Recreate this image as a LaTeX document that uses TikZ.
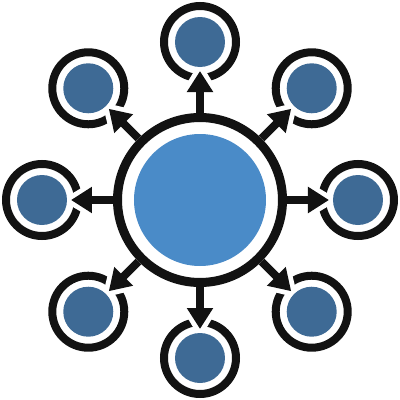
\documentclass[tikz,border=0pt]{standalone}
\usetikzlibrary{arrows.meta}
\definecolor{ringblack}{HTML}{121212}
\definecolor{hubblue}{HTML}{4A8BC8}
\definecolor{satblue}{HTML}{3E6A95}
\tikzset{
	hubring/.style={circle,draw=ringblack,line width=9pt,minimum size=165pt,inner sep=0pt},
	satring/.style={circle,draw=ringblack,line width=8pt,minimum size=72pt,inner sep=0pt},
	link/.style={ringblack,line width=8pt,-{Triangle[length=21pt,width=25pt]}}
}
\begin{document}
\begin{tikzpicture}[x=1pt,y=1pt]
		\useasboundingbox (-200,-200) rectangle (200,200);
		\node[hubring] (hub) at (0,0) {};
		\fill[hubblue] (hub.center) circle (66);
		\foreach \a [count=\i] in {90,45,0,-45,-90,-135,180,135}{
			\node[satring] (sat\i) at (\a:158) {};
			\coordinate (tip\i) at (\a:129);
			\filldraw[white,line width=10pt,rotate=\a] (129,0)--(108,12.5)--(108,-12.5)--cycle;
			\fill[satblue] (sat\i.center) circle (25);
			\draw[link] (hub) -- (tip\i);
		}
	    \end{tikzpicture}
\end{document}
